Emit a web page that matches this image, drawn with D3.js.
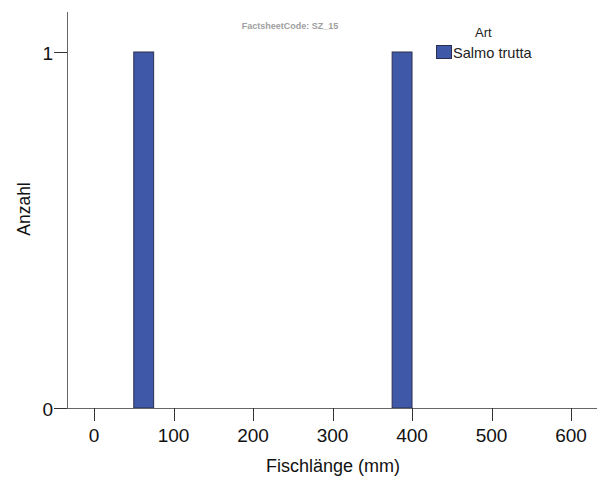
<!DOCTYPE html>
<html><head><meta charset="utf-8">
<script src="https://cdn.jsdelivr.net/npm/d3@7"></script>
<style>body{margin:0;background:#fff}svg{display:block;font-family:"Liberation Sans",Arial,sans-serif}</style>
</head><body>
<svg id="c" width="600" height="478"></svg>
<script>
const binStart = [50, 375];
const binEnd = [75, 400];
const counts = [1, 1];
const xTicks = [0, 100, 200, 300, 400, 500, 600];
const yTicks = [0, 1];
const seriesName = "Salmo trutta";

const svg = d3.select("#c");
const x = d3.scaleLinear().domain([-34, 632.7]).range([67, 597]);
const y = d3.scaleLinear().domain([0, 1]).range([408, 52]);

// bars
svg.selectAll("rect.bar").data(counts).enter().append("rect")
  .attr("x", (d,i)=>x(binStart[i]))
  .attr("width", (d,i)=>x(binEnd[i])-x(binStart[i]))
  .attr("y", d=>y(d))
  .attr("height", d=>y(0)-y(d))
  .attr("fill", "#3f58a8").attr("stroke", "#2b2f4f").attr("stroke-width", 1);

// y axis
svg.append("line").attr("x1",67.5).attr("x2",67.5).attr("y1",12).attr("y2",408).attr("stroke","#666");
yTicks.forEach(t=>{
  svg.append("line").attr("x1",54).attr("x2",67).attr("y1",Math.round(y(t))+0.5).attr("y2",Math.round(y(t))+0.5).attr("stroke","#333");
  svg.append("text").attr("x",53).attr("y",y(t)+8).attr("text-anchor","end").attr("font-size",19).attr("fill","#111").text(t);
});
// x axis
svg.append("line").attr("x1",67).attr("x2",597).attr("y1",408.5).attr("y2",408.5).attr("stroke","#666");
xTicks.forEach(t=>{
  svg.append("line").attr("x1",Math.round(x(t))+0.5).attr("x2",Math.round(x(t))+0.5).attr("y1",408).attr("y2",421).attr("stroke","#333");
  svg.append("text").attr("x",x(t)).attr("y",442).attr("text-anchor","middle").attr("font-size",19).attr("fill","#111").text(t);
});
svg.append("text").attr("x",333).attr("y",472).attr("text-anchor","middle").attr("font-size",18).attr("fill","#111").text("Fischlänge (mm)");
svg.append("text").attr("transform","translate(30,209) rotate(-90)").attr("text-anchor","middle").attr("font-size",17.5).attr("fill","#111").text("Anzahl");

// header
svg.append("text").attr("x",290).attr("y",29).attr("text-anchor","middle").attr("font-size",9).attr("font-weight","bold").attr("fill","#a0a0a0").text("FactsheetCode: SZ_15");
// legend
svg.append("text").attr("x",475).attr("y",37).attr("font-size",13).attr("fill","#222").text("Art");
svg.append("rect").attr("x",436.5).attr("y",45.5).attr("width",15).attr("height",13).attr("fill","#3f58a8").attr("stroke","#2b2f4f");
svg.append("text").attr("x",453).attr("y",58).attr("font-size",14.6).attr("fill","#222").text(seriesName);
</script>
</body></html>
